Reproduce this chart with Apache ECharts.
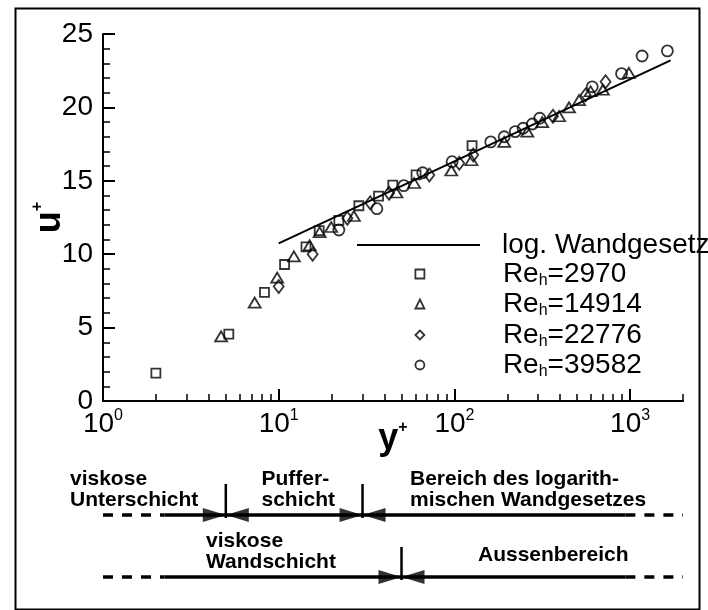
<!DOCTYPE html>
<html><head><meta charset="utf-8">
<script src="https://cdn.jsdelivr.net/npm/echarts@6/dist/echarts.min.js"></script>
<style>html,body{margin:0;padding:0;background:#fff}#c{width:708px;height:610px}</style>
</head><body><div id="c"></div>
<script>
// ---- data ----
const seriesNames = ['log. Wandgesetz', 'Re_h=2970', 'Re_h=14914', 'Re_h=22776', 'Re_h=39582'];
const logLaw = [[10, 10.74], [1700, 23.2]];
const re2970 = [[2.0,1.9],[5.2,4.55],[8.3,7.4],[10.8,9.3],[14.3,10.5],[17.0,11.6],[22.0,12.3],[28.6,13.3],[37.0,13.95],[44.6,14.7],[60.5,15.4],[126,17.4]];
const re14914 = [[4.7,4.4],[7.3,6.7],[9.8,8.4],[12.2,9.85],[15.0,10.6],[17.1,11.5],[19.9,11.85],[26.8,12.6],[46.8,14.2],[59,14.85],[96,15.7],[125,16.4],[192,17.65],[260,18.35],[316,19.0],[394,19.4],[449,20.0],[512,20.5],[596,21.1],[700,21.2],[984,22.35]];
const re22776 = [[10.0,7.8],[15.6,10.0],[24.6,12.45],[33.2,13.5],[42.5,14.15],[72,15.4],[106.6,16.2],[128,16.76],[364,19.4],[558,20.85],[725,21.75]];
const re39582 = [[22,11.65],[36.2,13.1],[51.5,14.67],[66,15.55],[97,16.3],[161,17.65],[192,18.0],[222,18.35],[246,18.58],[278,18.87],[306,19.26],[609,21.4],[894,22.3],[1170,23.5],[1630,23.85]];
const xMajorTicks = [1, 10, 100, 1000];
const xMinorTicks = [2,3,4,5,6,7,8,9,20,30,40,50,60,70,80,90,200,300,400,500,600,700,800,900,2000];
const yRange = [0, 25];
const yStep = 5;
// annotation (y+ values)
const row1Bounds = [5, 30];
const row2Bounds = [50];
const annotSolid = [2.24, 940];
const annotDash = [1, 2000];
const row1Texts = ['viskose\nUnterschicht', 'Puffer-\nschicht', 'Bereich des logarith-\nmischen Wandgesetzes'];
const row2Texts = ['viskose\nWandschicht', 'Aussenbereich'];

// ---- chart ----
const FONT = "'Liberation Sans', Arial, Helvetica, sans-serif";
const ROW1 = 75, ROW2 = 13;
const chart = echarts.init(document.getElementById('c'), null, {renderer: 'canvas'});

function seg(data, width, type) {
  return {type: 'line', xAxisIndex: 2, yAxisIndex: 1, data: data, symbol: 'none', silent: true,
    lineStyle: {color: '#000', width: width, type: type || 'solid', cap: 'butt'}, z: 3};
}
const annotSeries = [
  seg([[annotDash[0], ROW1], [annotSolid[0], ROW1]], 3.5, [10, 9]),
  seg([[annotSolid[0], ROW1], [annotSolid[1], ROW1]], 3.5),
  seg([[annotSolid[1], ROW1], [annotDash[1], ROW1]], 3.5, [10, 9]),
  seg([[annotDash[0], ROW2], [annotSolid[0], ROW2]], 3.5, [10, 9]),
  seg([[annotSolid[0], ROW2], [annotSolid[1], ROW2]], 3.5),
  seg([[annotSolid[1], ROW2], [annotDash[1], ROW2]], 3.5, [10, 9])
];
row1Bounds.forEach(b => annotSeries.push(seg([[b, ROW1 - 3], [b, ROW1 + 31]], 2.5)));
row2Bounds.forEach(b => annotSeries.push(seg([[b, ROW2 - 3], [b, ROW2 + 30]], 2.5)));
const tips = row1Bounds.map(b => [b, ROW1]).concat(row2Bounds.map(b => [b, ROW2]));
annotSeries.push({type: 'scatter', xAxisIndex: 2, yAxisIndex: 1, data: tips, symbol: 'triangle', silent: true,
  symbolSize: [14, 23], symbolRotate: -90, symbolOffset: [-11.5, 0], itemStyle: {color: '#000'}, z: 4});
annotSeries.push({type: 'scatter', xAxisIndex: 2, yAxisIndex: 1, data: tips, symbol: 'triangle', silent: true,
  symbolSize: [14, 23], symbolRotate: 90, symbolOffset: [11.5, 0], itemStyle: {color: '#000'}, z: 4});

const markerStyle = {color: 'rgba(255,255,255,0)', borderColor: '#000', borderWidth: 1.8};
function sc(name, data, symbol, size) {
  return {type: 'scatter', name: name, data: data, symbol: symbol, symbolSize: size,
    xAxisIndex: 0, yAxisIndex: 0, itemStyle: markerStyle, z: 5};
}

const legendRich = {
  a: {fontSize: 28, lineHeight: 30, fontFamily: FONT, color: '#000'},
  s: {fontSize: 16, lineHeight: 2, verticalAlign: 'bottom', fontFamily: FONT, color: '#000'}
};
function legendFor(name, top) {
  return {data: [name], left: 414.5, top: top, padding: 0, itemWidth: 9, itemHeight: 9, selectedMode: false,
    formatter: n => n.replace(/^Re_h(=.*)$/, '{a|Re}{s|h}{a|$1}'),
    itemStyle: {borderWidth: 1.8, borderColor: '#000', color: 'rgba(255,255,255,0)'},
    textStyle: {fontSize: 28, fontFamily: FONT, color: '#000', rich: legendRich, padding: [0, 0, 0, 73.5]}};
}
const legendTops = [260, 290, 321, 351];

const textEls = [];
const t1x = [70, 261.5, 410];
row1Texts.forEach((t, i) => textEls.push({type: 'text', left: t1x[i], top: 468.5,
  style: {text: t, font: 'bold 21px ' + FONT, fill: '#000', lineHeight: 21}}));
const t2x = [206, 478];
const t2y = [530.5, 544.5];
row2Texts.forEach((t, i) => textEls.push({type: 'text', left: t2x[i], top: t2y[i],
  style: {text: t, font: 'bold 21px ' + FONT, fill: '#000', lineHeight: 21}}));

const nameRich = {
  b: {fontSize: 36, fontWeight: 'bold', lineHeight: 40, fontFamily: FONT, color: '#000'},
  p: {fontSize: 16, fontWeight: 'bold', lineHeight: 15, verticalAlign: 'top', fontFamily: FONT, color: '#000'}
};

const option = {
  animation: false,
  backgroundColor: '#fff',
  textStyle: {fontFamily: FONT},
  grid: [
    {left: 103, right: 25, top: 34, bottom: 209},
    {left: 103, right: 25, top: 470, height: 120}
  ],
  legend: [
    {data: [{name: seriesNames[0], icon: 'rect'}], left: 357, top: 230, padding: 0, itemWidth: 123, itemHeight: 2, selectedMode: false,
      itemStyle: {color: '#000', borderWidth: 0},
      textStyle: {fontSize: 28, lineHeight: 30, fontFamily: FONT, color: '#000', padding: [0, 0, 0, 17]}},
    legendFor(seriesNames[1], legendTops[0]),
    legendFor(seriesNames[2], legendTops[1]),
    legendFor(seriesNames[3], legendTops[2]),
    legendFor(seriesNames[4], legendTops[3])
  ],
  xAxis: [
    {type: 'log', logBase: 10, min: 1, max: 2000, gridIndex: 0, position: 'bottom',
      axisLine: {onZero: false, lineStyle: {color: '#000', width: 2}},
      axisTick: {inside: true, length: 12, customValues: xMajorTicks, lineStyle: {color: '#000', width: 2}},
      axisLabel: {customValues: xMajorTicks, margin: 7, color: '#000',
        formatter: v => '{b|10}{s|' + Math.round(Math.log10(v)) + '}',
        rich: {b: {fontSize: 28, lineHeight: 32, fontFamily: FONT, color: '#000'},
               s: {fontSize: 16, lineHeight: 4, verticalAlign: 'top', fontFamily: FONT, color: '#000'}}},
      splitLine: {show: false},
      name: '{b|y}{p|+}', nameLocation: 'middle', nameGap: 18.5, nameMoveOverlap: false,
      nameTextStyle: {rich: nameRich}},
    {type: 'log', logBase: 10, min: 1, max: 2000, gridIndex: 0, position: 'bottom',
      axisLine: {show: false, onZero: false},
      axisTick: {inside: true, length: 7, customValues: xMinorTicks, lineStyle: {color: '#000', width: 1.5}},
      axisLabel: {show: false}, splitLine: {show: false}},
    {type: 'log', logBase: 10, min: 1, max: 2000, gridIndex: 1, show: false}
  ],
  yAxis: [
    {type: 'value', min: yRange[0], max: yRange[1], interval: yStep, gridIndex: 0,
      axisLine: {show: true, onZero: false, lineStyle: {color: '#000', width: 2}},
      axisTick: {show: true, inside: true, length: 12, lineStyle: {color: '#000', width: 2}},
      minorTick: {show: true, splitNumber: 5, length: 7, lineStyle: {color: '#000', width: 1.5}},
      axisLabel: {fontSize: 28, color: '#000', margin: 10, fontFamily: FONT},
      splitLine: {show: false}, minorSplitLine: {show: false},
      name: '{b|u}{p|+}', nameLocation: 'middle', nameRotate: 90, nameGap: 33, nameMoveOverlap: false,
      nameTextStyle: {rich: nameRich}},
    {type: 'value', min: 0, max: 120, gridIndex: 1, show: false}
  ],
  graphic: [{type: 'rect', left: 13, top: 6, shape: {width: 684, height: 601}, silent: true,
    style: {fill: 'none', stroke: '#000', lineWidth: 2}}].concat(textEls),
  series: [
    {type: 'line', name: seriesNames[0], data: logLaw, symbol: 'none', xAxisIndex: 0, yAxisIndex: 0,
      lineStyle: {color: '#000', width: 2}, itemStyle: {color: '#000'}, z: 4},
    sc(seriesNames[1], re2970, 'rect', [9, 9]),
    sc(seriesNames[2], re14914, 'triangle', [12, 10]),
    sc(seriesNames[3], re22776, 'diamond', [10, 13]),
    sc(seriesNames[4], re39582, 'circle', [11, 11])
  ].concat(annotSeries)
};
chart.setOption(option);
</script>
</body></html>
